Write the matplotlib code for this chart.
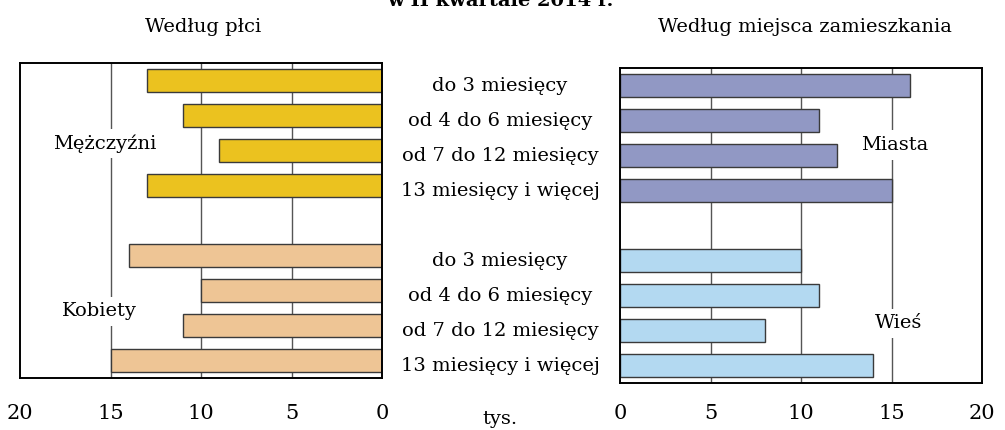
import matplotlib
matplotlib.use('Agg')
import matplotlib.pyplot as plt
import matplotlib.transforms as mtransforms

# bezrobotni wg czasu poszukiwania pracy (tys.)
categories = ['do 3 miesięcy', 'od 4 do 6 miesięcy', 'od 7 do 12 miesięcy', '13 miesięcy i więcej']
men = [13, 11, 9, 13]
women = [14, 10, 11, 15]
city = [16, 11, 12, 15]
village = [10, 11, 8, 14]
ticks = [0, 5, 10, 15, 20]

FONT = 'DejaVu Serif'
plt.rcParams['font.family'] = FONT

top_pos = [0, 1, 2, 3]
bot_pos = [5, 6, 7, 8]
bar_h = 0.67
edge = '#3a3a3a'
fs = 14

fig = plt.figure(figsize=(10.05, 4.30), dpi=100)
W, H = 1005, 430
ax1 = fig.add_axes([20 / W, 1 - 378 / H, 362 / W, 315 / H])
ax2 = fig.add_axes([620 / W, 1 - 383 / H, 362 / W, 315 / H])


def setup(ax, inverted, pad):
    ax.set_ylim(8.5, -0.5)
    if inverted:
        ax.set_xlim(20, 0)
    else:
        ax.set_xlim(0, 20)
    for x in [5, 10, 15]:
        ax.axvline(x, color='#555555', lw=1.0, zorder=0)
    for s in ax.spines.values():
        s.set_linewidth(1.4)
        s.set_color('black')
    ax.set_yticks([])
    ax.set_xticks(ticks)
    ax.set_xticklabels([str(t) for t in ticks], fontsize=15)
    ax.tick_params(axis='x', length=0, pad=pad)


setup(ax1, True, 19)
setup(ax2, False, 15)

ax1.barh(top_pos, men, height=bar_h, color='#EBC21F', edgecolor=edge, lw=1.0, zorder=2)
ax1.barh(bot_pos, women, height=bar_h, color='#EEC595', edgecolor=edge, lw=1.0, zorder=2)
ax2.barh(top_pos, city, height=bar_h, color='#9198C4', edgecolor=edge, lw=1.0, zorder=2)
ax2.barh(bot_pos, village, height=bar_h, color='#B3D9F1', edgecolor=edge, lw=1.0, zorder=2)

box = dict(facecolor='white', edgecolor='none', pad=4)
ax1.text(15.3, 1.8, 'Mężczyźni', ha='center', va='center', fontsize=fs, bbox=box, zorder=1)
ax1.text(15.6, 6.6, 'Kobiety', ha='center', va='center', fontsize=fs, bbox=box, zorder=1)
ax2.text(15.2, 1.7, 'Miasta', ha='center', va='center', fontsize=fs, bbox=box, zorder=1)
ax2.text(15.4, 6.8, 'Wieś', ha='center', va='center', fontsize=fs, bbox=box, zorder=1)

# opisy kategorii pomiędzy panelami
trans = mtransforms.blended_transform_factory(fig.transFigure, ax2.transData)
for pos_list in (top_pos, bot_pos):
    for p, lab in zip(pos_list, categories):
        fig.text(500 / W, p + 0.02, lab, transform=trans, ha='center', va='center', fontsize=fs)

fig.text(500 / W, 1 - 419 / H, 'tys.', ha='center', va='center', fontsize=fs)
fig.text(203 / W, 1 - 27 / H, 'Według płci', ha='center', va='center', fontsize=fs)
fig.text(805 / W, 1 - 27 / H, 'Według miejsca zamieszkania', ha='center', va='center', fontsize=fs)
fig.text(500 / W, 1 - 1 / H, 'w II kwartale 2014 r.', ha='center', va='center', fontsize=14, fontweight='bold')

fig.savefig('out.png', dpi=100)
